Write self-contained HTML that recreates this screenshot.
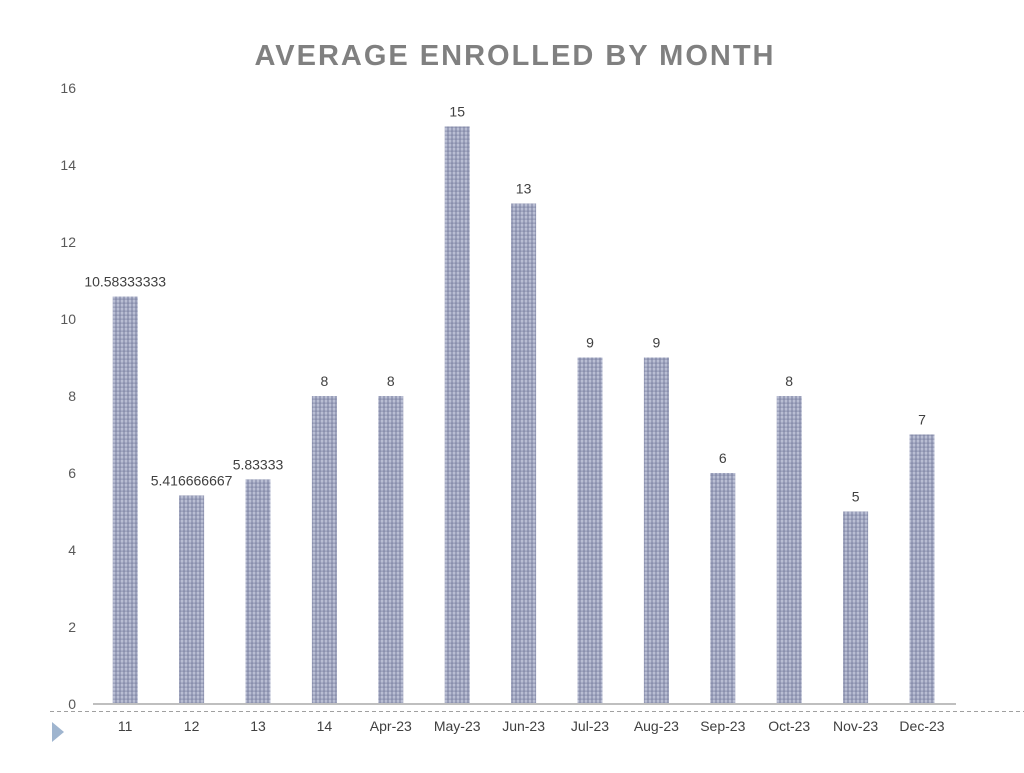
<!DOCTYPE html>
<html><head><meta charset="utf-8"><style>
body{margin:0;background:#fff;font-family:"Liberation Sans",sans-serif;}
</style></head><body>
<svg width="1024" height="768" xmlns="http://www.w3.org/2000/svg">
<defs>
<linearGradient id="hg" x1="0" x2="1" y1="0" y2="0">
<stop offset="0" stop-color="#8a90ad"/><stop offset="0.5" stop-color="#c9cde0"/><stop offset="1" stop-color="#8a90ad"/>
</linearGradient>
<pattern id="stripes" width="4" height="4" patternUnits="userSpaceOnUse">
<rect width="4" height="4" fill="url(#hg)"/>
<rect y="2.5" width="4" height="1.3" fill="#6d7396" opacity="0.45"/>
</pattern>
</defs>
<text x="515" y="65" text-anchor="middle" font-size="29" font-weight="bold" fill="#808080" letter-spacing="2">AVERAGE ENROLLED BY MONTH</text>
<g id="yaxis"></g>
<g id="bars"></g>
<line x1="93" y1="704" x2="956" y2="704" stroke="#bfbfbf" stroke-width="2"/>
<line x1="50" y1="711.5" x2="1024" y2="711.5" stroke="#a0a0a0" stroke-width="1" stroke-dasharray="4,3"/>
<polygon points="52,722 64,732 52,742" fill="#9fb5cf"/>
</svg>
<script>
const categories=["11","12","13","14","Apr-23","May-23","Jun-23","Jul-23","Aug-23","Sep-23","Oct-23","Nov-23","Dec-23"];
const values=[10.58333333,5.416666667,5.83333,8,8,15,13,9,9,6,8,5,7];
const valueLabels=["10.58333333","5.416666667","5.83333","8","8","15","13","9","9","6","8","5","7"];
const yTicks=[0,2,4,6,8,10,12,14,16];
const NS="http://www.w3.org/2000/svg";
const y0=704,yTop=88,yMax=16,x0=92,step=66.4,bw=25;
function yScale(v){return y0-(v/yMax)*(y0-yTop);}
function xScale(i){return x0+step*(i+0.5);}
function mk(tag,attrs,parent,txt){const e=document.createElementNS(NS,tag);for(const k in attrs)e.setAttribute(k,attrs[k]);if(txt!==undefined)e.textContent=txt;parent.appendChild(e);return e;}
const ya=document.getElementById('yaxis'),bg=document.getElementById('bars');
yTicks.forEach(t=>{
 const e=mk('text',{x:76,y:yScale(t)+5,'text-anchor':'end','font-size':14,fill:'#595959'},ya,String(t));
 
 
});
categories.forEach((c,i)=>{
 const cx=xScale(i),v=values[i];
 const r=mk('rect',{x:cx-bw/2,y:yScale(v),width:bw,height:y0-yScale(v),fill:'url(#stripes)'},bg);
 
 
 const l=mk('text',{x:cx,y:yScale(v)-10,'text-anchor':'middle','font-size':14,fill:'#404040'},bg,valueLabels[i]);
 
 
 const xl=mk('text',{x:cx,y:731,'text-anchor':'middle','font-size':14,fill:'#404040'},bg,c);
 
 
});
</script>
</body></html>
